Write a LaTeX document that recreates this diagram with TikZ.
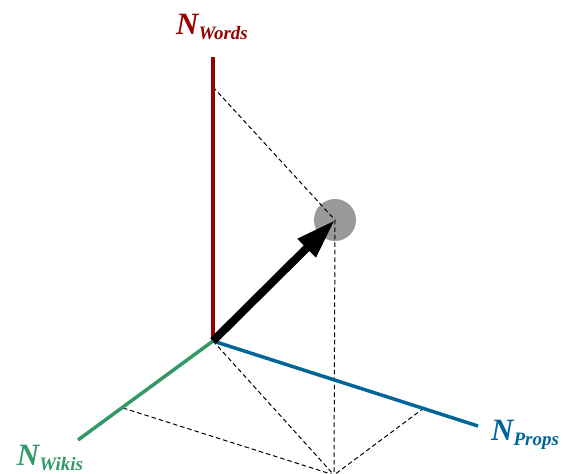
\documentclass[tikz,border=0pt]{standalone}
\usepackage{fontspec}
\setmainfont{Liberation Serif}
\usetikzlibrary{arrows.meta,positioning}
\definecolor{wordsred}{HTML}{990000}
\definecolor{wikisgreen}{HTML}{339966}
\definecolor{propsblue}{HTML}{006699}
\newcommand{\axlabel}[1]{{\fontsize{31}{31}\selectfont\bfseries\itshape N}{\fontsize{19}{19}\selectfont\bfseries\itshape\raisebox{-5pt}{#1}}}

\begin{document}
\begin{tikzpicture}[x=1pt,y=1pt,
    axis/.style={line width=3.5pt},
    proj/.style={line width=1pt,dash pattern=on 4.5pt off 3pt}]
  \useasboundingbox (0,0) rectangle (563,474);
  % origin and axis ends
  \coordinate (O) at (213,133);
  \coordinate (words) at (213,417);
  \coordinate (wikis) at (78,34);
  \coordinate (props) at (478,48);
  % projections of the point
  \coordinate (pw) at (213,387);
  \coordinate (pk) at (123,66);
  \coordinate (pp) at (424,66);
  \coordinate (Q) at (334,-1);
  \node[circle,fill=black!40,minimum size=42pt,inner sep=0pt] (P) at (335,254) {};
  \draw[proj] (pw) -- (P.center);
  \draw[proj] (P.center) -- (Q);
  \draw[proj] (O) -- (Q);
  \draw[proj] (pk) -- (Q);
  \draw[proj] (pp) -- (Q);
  \draw[axis,wordsred] (O) -- (words);
  \draw[axis,wikisgreen] (O) -- (wikis);
  \draw[axis,propsblue] (O) -- (props);
  \draw[line width=8pt,-{Triangle[length=40pt 0 0,width=24pt 0 0]}] (O) -- (P.center);
  % axis labels
  \node[wordsred] (lwords) at (212,447) {\axlabel{Words}};
  \node[wikisgreen] (lwikis) at (50,16) {\axlabel{Wikis}};
  \node[propsblue] (lprops) at (525,39) {\axlabel{Props}};
\end{tikzpicture}
\end{document}
